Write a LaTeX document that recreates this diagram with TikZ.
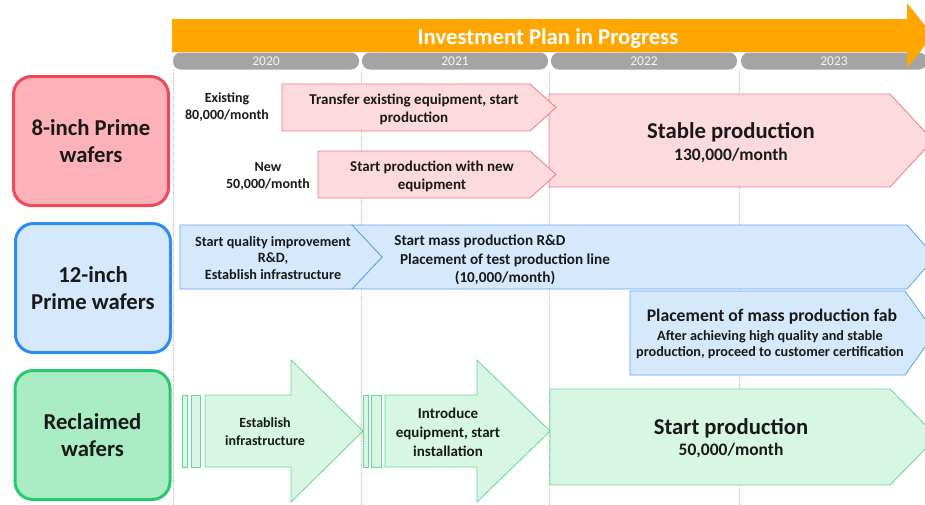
\documentclass[tikz,border=0pt]{standalone}
\usepackage{fontspec}
\setmainfont{Carlito}
\usetikzlibrary{positioning}

\definecolor{planorange}{RGB}{255,166,0}
\definecolor{pillgray}{RGB}{164,164,164}
\definecolor{gridgray}{RGB}{200,200,200}
\definecolor{inkblack}{RGB}{25,25,25}
\definecolor{pinkbox}{RGB}{253,178,186}
\definecolor{pinkedge}{RGB}{240,72,90}
\definecolor{pinkfill}{RGB}{253,218,222}
\definecolor{pinkline}{RGB}{240,120,132}
\definecolor{bluebox}{RGB}{214,232,252}
\definecolor{blueedge}{RGB}{45,140,240}
\definecolor{bluefill}{RGB}{214,232,252}
\definecolor{blueline}{RGB}{90,165,240}
\definecolor{greenbox}{RGB}{170,236,196}
\definecolor{greenedge}{RGB}{40,200,110}
\definecolor{greenfill}{RGB}{215,246,227}
\definecolor{greenline}{RGB}{100,215,150}

\tikzset{
  catbox/.style={rounded corners=18pt, line width=3pt, align=center,
    minimum width=155pt, minimum height=129pt, text=inkblack,
    font=\fontsize{22.7}{27}\selectfont\bfseries},
  yearpill/.style={fill=pillgray, rounded corners=8pt, minimum width=186pt,
    minimum height=17pt, inner sep=0pt, text=white!92!gray,
    font=\fontsize{13.5}{14}\selectfont},
  stage/.style={line width=0.8pt},
  small/.style={align=center, text=inkblack, font=\fontsize{15}{18}\selectfont\bfseries},
  note/.style={align=center, text=inkblack, font=\fontsize{14}{17}\selectfont\bfseries},
  big/.style={text=inkblack, font=\fontsize{22.7}{26}\selectfont\bfseries},
  rate/.style={text=inkblack, font=\fontsize{17.5}{20}\selectfont\bfseries},
  gridline/.style={gridgray, densely dotted, line width=0.6pt}
}

\begin{document}
\begin{tikzpicture}[x=1pt,y=-1pt]
  \clip (0,0) rectangle (925,504);

  % year grid
  \foreach \x in {173,361,549,739}
    \draw[gridline] (\x,70) -- (\x,504);

  % timeline header
  \foreach \x/\yr in {173/2020,362/2021,551/2022,741/2023}
    \node[yearpill] (y\yr) at (\x+93,61) {\yr};
  \fill[planorange] (172,19) -- (907,19) -- (907,3) -- (933,35.5)
    -- (907,68) -- (907,52) -- (172,52) -- cycle;
  \node[text=white, font=\fontsize{22.7}{26}\selectfont\bfseries] (plan) at (548,38)
    {Investment Plan in Progress};

  % 8-inch
  \node[catbox, draw=pinkedge, fill=pinkbox] (prime8) at (91,141) {8-inch Prime\\wafers};
  \filldraw[stage, draw=pinkline, fill=pinkfill] (549,94) -- (890,94) -- (933,140.5)
    -- (890,187) -- (549,187) -- cycle;
  \filldraw[stage, draw=pinkline, fill=pinkfill] (282,84) -- (530,84) -- (556,107.5)
    -- (530,131) -- (282,131) -- cycle;
  \filldraw[stage, draw=pinkline, fill=pinkfill] (318,151) -- (530,151) -- (556,174.5)
    -- (530,198) -- (318,198) -- cycle;
  \node[note] (existing) at (227,107) {Existing\\80,000/month};
  \node[small] (transfer) at (414,109) {Transfer existing equipment, start\\production};
  \node[note] (new) at (268,176) {New\\50,000/month};
  \node[small] (newequip) at (432,176) {Start production with new\\equipment};
  \node[big] (stable) at (731,132) {Stable production};
  \node[rate] (stablerate) at (731,156) {130,000/month};

  % 12-inch
  \node[catbox, draw=blueedge, fill=bluebox] (prime12) at (93,288) {12-inch\\Prime wafers};
  \filldraw[stage, draw=blueline, fill=bluefill] (352,225) -- (907,225) -- (935,257)
    -- (907,289) -- (352,289) -- (382,257) -- cycle;
  \filldraw[stage, draw=blueline, fill=bluefill] (180,225) -- (352,225) -- (382,257)
    -- (352,289) -- (180,289) -- cycle;
  \filldraw[stage, draw=blueline, fill=bluefill] (630,291) -- (905,291) -- (935,333)
    -- (905,375) -- (630,375) -- cycle;
  \node[small, font=\fontsize{14.2}{16.5}\selectfont\bfseries] (quality) at (273,258)
    {Start quality improvement\\R\&D,\\Establish infrastructure};
  \node[small, font=\fontsize{15.2}{18.5}\selectfont\bfseries] (massrd) at (505,260)
    {Start mass production R\&D\hspace*{3.3em}\\Placement of test production line\\(10,000/month)};
  \node[text=inkblack, font=\fontsize{17.7}{20}\selectfont\bfseries] (fab) at (772,317)
    {Placement of mass production fab};
  \node[small, font=\fontsize{14.2}{16}\selectfont\bfseries] (certify) at (770,345)
    {After achieving high quality and stable\\production, proceed to customer certification};

  % reclaimed
  \node[catbox, draw=greenedge, fill=greenbox] (reclaim) at (92.5,435) {Reclaimed\\wafers};
  \filldraw[stage, draw=greenline, fill=greenfill] (182,395) rectangle (187,467);
  \filldraw[stage, draw=greenline, fill=greenfill] (191,395) rectangle (200,467);
  \filldraw[stage, draw=greenline, fill=greenfill] (205,395) -- (291,395) -- (291,360)
    -- (363,431) -- (291,502) -- (291,467) -- (205,467) -- cycle;
  \filldraw[stage, draw=greenline, fill=greenfill] (363,395) rectangle (368,467);
  \filldraw[stage, draw=greenline, fill=greenfill] (371,395) rectangle (381,467);
  \filldraw[stage, draw=greenline, fill=greenfill] (385,395) -- (477,395) -- (477,360)
    -- (550,431) -- (477,502) -- (477,467) -- (385,467) -- cycle;
  \filldraw[stage, draw=greenline, fill=greenfill] (550,389) -- (890,389) -- (937,437)
    -- (890,485) -- (550,485) -- cycle;
  \node[note, font=\fontsize{14}{18}\selectfont\bfseries] (infra) at (265,432)
    {Establish\\infrastructure};
  \node[small, font=\fontsize{15}{19}\selectfont\bfseries] (install) at (448,432)
    {Introduce\\equipment, start\\installation};
  \node[big] (startprod) at (731,428) {Start production};
  \node[rate] (startrate) at (731,451) {50,000/month};
\end{tikzpicture}
\end{document}
